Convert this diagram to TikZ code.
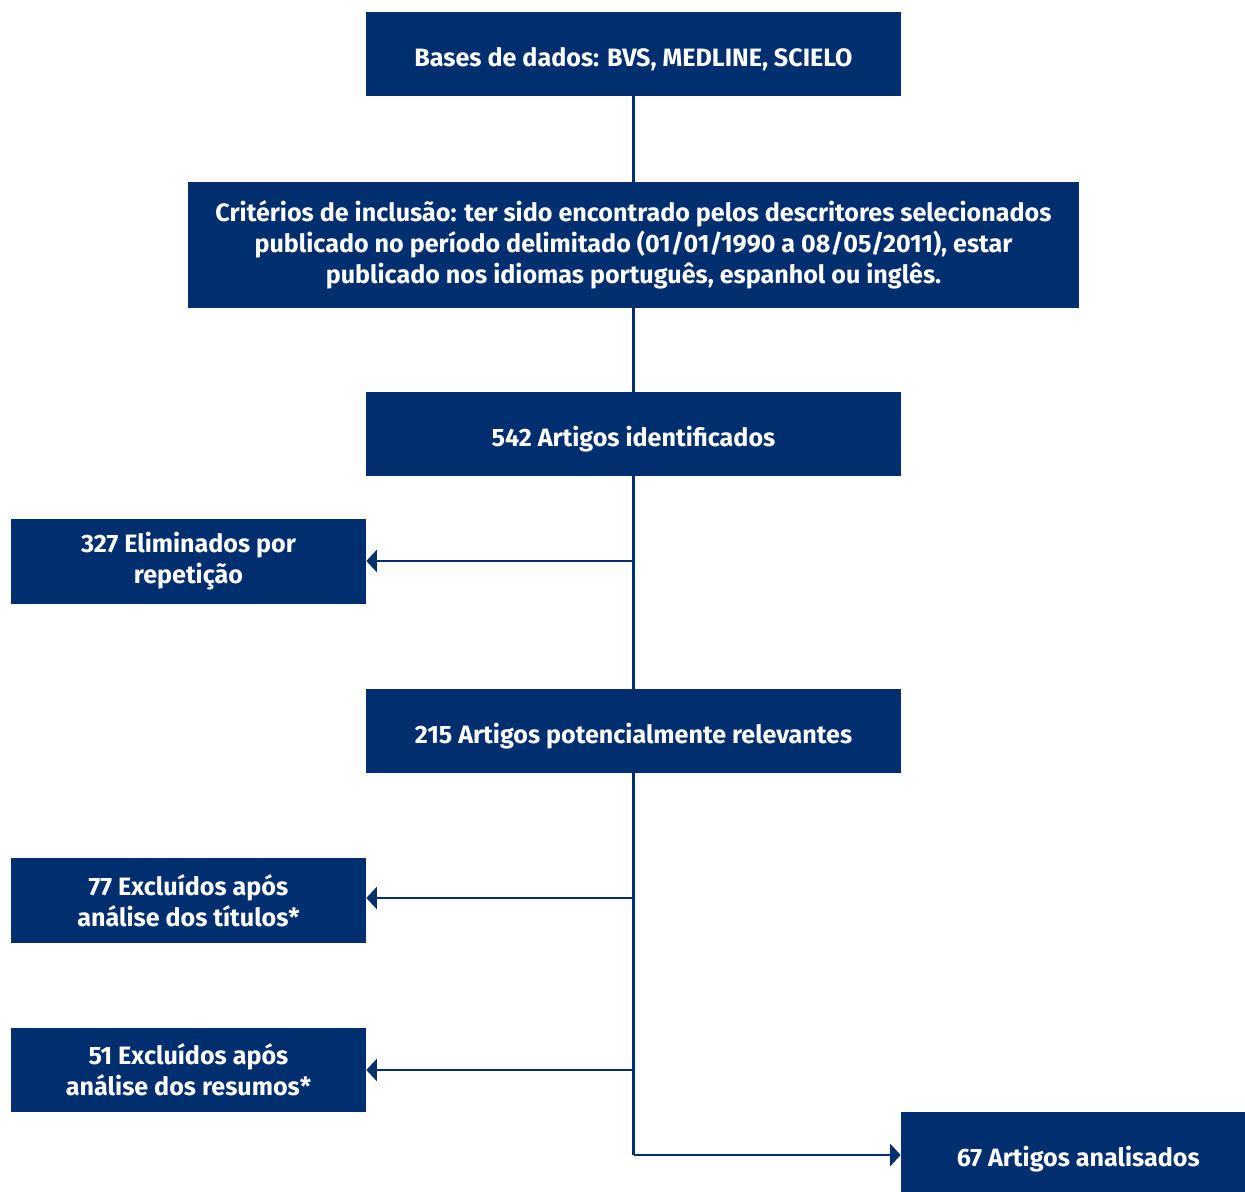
\documentclass[tikz,border=0pt]{standalone}
\usepackage{fontspec}
\setmainfont{Fira Sans}
\usetikzlibrary{positioning, arrows.meta}
\definecolor{BoxNavy}{RGB}{0,46,110}

\begin{document}
\begin{tikzpicture}[x=0.02cm, y=-0.02cm,
          bx/.style={rectangle, fill=BoxNavy, text=white, inner sep=0pt,
                     minimum width=10.7cm, minimum height=1.68cm, align=center,
                     font=\fontsize{14.3}{17.6}\selectfont\bfseries},
          one/.style={bx, text depth=0pt},
          side/.style={bx, minimum width=7.1cm, minimum height=1.7cm},
          ln/.style={draw=BoxNavy, line width=1.4pt},
          arr/.style={ln, -{Triangle[length=6pt, width=12.5pt]}}
        ]
        \useasboundingbox (0,0) rectangle (1245,1192);

        % Main column
        \node[one] (db) at (633.5, 54) {\raisebox{-3pt}{Bases de dados: BVS, MEDLINE, SCIELO}};
        \node[bx, minimum width=17.82cm, minimum height=2.52cm]
              (crit) at (633.5, 245) {Critérios de inclusão: ter sido encontrado pelos descritores selecionados\\
              publicado no período delimitado (01/01/1990 a 08/05/2011), estar\\
              publicado nos idiomas português, espanhol ou inglês.};
        \node[one] (ident) at (633.5, 434) {\raisebox{-3pt}{542 Artigos identificados}};
        \node[one] (relev) at (633.5, 731) {\raisebox{-3pt}{215 Artigos potencialmente relevantes}};

        % Excluded
        \node[side] (rep) at (188.5, 561.5) {327 Eliminados por\\repetição};
        \node[side] (tit) at (188.5, 900.5) {77 Excluídos após\\análise dos títulos*};
        \node[side] (res) at (188.5, 1070) {51 Excluídos após\\análise dos resumos*};

        % Final
        \node[side, minimum width=6.88cm, minimum height=1.6cm,
              text depth=0pt] (final) at (1073, 1152) {\raisebox{-5pt}{\hspace*{6pt}67 Artigos analisados}};

        % Branch points
        \coordinate (c1) at (633.5, 561);
        \coordinate (c2) at (633.5, 898);
        \coordinate (c3) at (633.5, 1070);
        \coordinate (c4) at (633.5, 1155);

        \draw[ln]  (db)    -- (crit);
        \draw[ln]  (crit)  -- (ident);
        \draw[ln]  (ident) -- (relev);
        \draw[arr] (c1)    -- (rep.east |- c1);
        \draw[ln]  (relev) -- (c4);
        \draw[arr] (c2)    -- (tit.east |- c2);
        \draw[arr] (c3)    -- (res.east |- c3);
        \draw[arr] (c4)    -- (final.west |- c4);
      \end{tikzpicture}
\end{document}
